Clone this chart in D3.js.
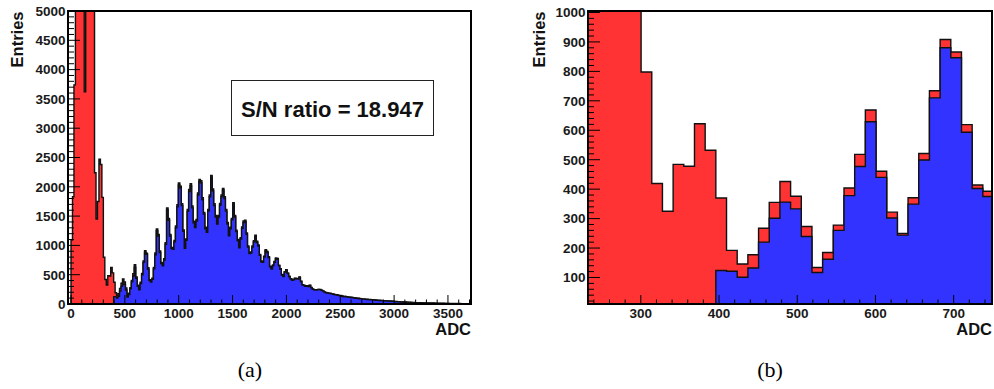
<!DOCTYPE html>
<html><head><meta charset="utf-8">
<script src="https://cdn.jsdelivr.net/npm/d3@7"></script>
<style>body{margin:0;background:#fff}svg{display:block}</style>
</head><body><svg id="c" width="994" height="389"></svg>
<script>
// ---- data ----
const binWidth = 4096 / 300;            // ADC units per bin
// total entries (red), bins 0..272
const totalCounts = [
1090,1830,3740,5600,7200,8400,8800,8200,7000,3620,
6400,6900,6800,6200,5600,5200,2240,1450,1750,2470,
2380,1820,798,419,325,484,478,622,532,
370,192,146,177,267,355,426,376,273,134,185,278,404,518,669,461,322,250,371,521,734,908,866,619,414,393,
440,625,870,1280,1185,905,710,668,772,1048,1640,1458,1185,965,955,1085,1330,1695,2065,2012,1710,1265,
972,1110,1612,1955,2055,1672,1412,1330,1442,1895,2125,2105,1812,1562,1310,1250,1615,1862,2195,1962,1710,1512,1390,1512,
1715,1862,1972,1830,1612,1390,1188,1310,1462,1730,1512,1260,1102,980,1132,1315,1416,1432,1213,990,878,888,990,1082,1172,1070,
1008,846,735,726,815,928,896,806,645,609,665,725,786,776,664,604,504,478,553,584,528,473,432,412,
422,442,437,432,463,391,331,321,307,311,300,321,281,256,245,240,245,250,248,235,222,206,196,190,185,180,
176,169,161,159,153,146,144,136,127,130,124,120,117,114,110,107,102,100,97,93,
90,87,86,82,80,78,76,74,72,70,67,65,64,62,60,58,56,54,53,52,
51,49,47,44,42,41,39,37,36,34,33,32,30,29,28,26,25,24,23,22,
22,21,20,19,19,18,17,17,16,16,15,14,14,13,13,12,12,11,11,11,
10,10,9,9,9,8,8,8,7,7,7,7,6,6,6,6
];
// signal entries (blue), starting at bin 29
const signalFirstBin = 29;
const signalCounts = [
124,121,101,132,220,301,356,333,239,117,162,260,378,477,629,440,302,244,349,499,710,880,846,593,402,375,
420,600,840,1250,1160,880,690,650,750,1020,1610,1430,1160,945,935,1060,1300,1660,2030,1980,1680,1240,
950,1085,1580,1920,2020,1640,1385,1305,1415,1860,2090,2070,1780,1535,1285,1225,1585,1830,2160,1930,1680,1485,1365,1485,
1685,1830,1940,1800,1585,1365,1165,1285,1435,1700,1485,1235,1080,960,1110,1290,1390,1405,1190,970,860,870,970,1060,1150,1050,
990,830,720,712,800,910,880,792,633,598,653,712,772,762,653,594,495,470,544,574,519,465,425,405,
415,435,430,425,455,385,326,316,302,306,296,316,277,252,242,237,242,247,245,232,219,203,193,188,183,178,
173,166,158,156,150,143,141,133,124,127,121,117,114,111,107,104,99,97,94,90,
87,84,83,79,77,75,73,71,69,67,64,62,61,59,57,55,53,51,50,49,
48,46,44,41,39,38,36,34,33,31,30,29,27,26,25,23,22,21,20,19,
19,18,17,16,16,15,14,14,13,13,12,11,11,10,10,9,9,8,8,8,
7,7,6,6,6,5,5,5,4,4,4,4,3,3,3,3
];
const leftXTicks = [0,500,1000,1500,2000,2500,3000,3500];
const leftYTicks = [0,500,1000,1500,2000,2500,3000,3500,4000,4500,5000];
const rightXTicks = [300,400,500,600,700];
const rightYTicks = [100,200,300,400,500,600,700,800,900,1000];
const xTitle = "ADC";
const yTitle = "Entries";
const snLabel = "S/N ratio = 18.947";
const captions = ["(a)", "(b)"];

// ---- drawing ----
const svg = d3.select("#c");
const RED = "#ff3333", BLUE = "#3333ff";
const sans = "'Liberation Sans', Arial, Helvetica, sans-serif";
const serif = "'Liberation Serif', 'Times New Roman', serif";

const totalBins = totalCounts.map((c, i) => ({x0: i * binWidth, x1: (i + 1) * binWidth, c}));
const signalBins = signalCounts.map((c, i) => ({x0: (i + signalFirstBin) * binWidth, x1: (i + signalFirstBin + 1) * binWidth, c}));

function stepPoints(bins) {
  const pts = [[bins[0].x0, 0]];
  bins.forEach(b => { pts.push([b.x0, b.c]); pts.push([b.x1, b.c]); });
  pts.push([bins[bins.length - 1].x1, 0]);
  return pts;
}

const panels = [
  {box: {x0: 68, x1: 471, y0: 11, y1: 304}, xDom: [-28, 3714], yDom: [0, 5000],
   xTicks: leftXTicks, xMinor: 100, yTicks: leftYTicks, yMinor: 100, caption: captions[0], capX: 250,
   yTitleX: 23, sn: true},
  {box: {x0: 588, x1: 992, y0: 11, y1: 304}, xDom: [232.5, 749], yDom: [10, 1005],
   xTicks: rightXTicks, xMinor: 20, yTicks: rightYTicks, yMinor: 20, caption: captions[1], capX: 770,
   yTitleX: 545, sn: false}
];

panels.forEach((p, pi) => {
  const b = p.box;
  const x = d3.scaleLinear().domain(p.xDom).range([b.x0, b.x1]);
  const y = d3.scaleLinear().domain(p.yDom).range([b.y1, b.y0]);
  const g = svg.append("g");
  const clipId = "clip" + pi;
  g.append("clipPath").attr("id", clipId).append("rect")
    .attr("x", b.x0).attr("y", b.y0).attr("width", b.x1 - b.x0).attr("height", b.y1 - b.y0);
  const hg = g.append("g").attr("clip-path", `url(#${clipId})`);
  const line = d3.line().x(d => x(d[0])).y(d => y(d[1]));
  [[totalBins, RED], [signalBins, BLUE]].forEach(([bins, col]) => {
    const pts = stepPoints(bins);
    hg.append("path").attr("d", line(pts) + "Z").attr("fill", col).attr("stroke", "none");
    hg.append("path").attr("d", line(pts)).attr("fill", "none")
      .attr("stroke", "#111").attr("stroke-width", 1.4).attr("stroke-linejoin", "miter");
  });

  // ticks
  const tg = g.append("g").attr("stroke", "#000").attr("stroke-width", 1);
  const xMin = Math.ceil(p.xDom[0] / p.xMinor) * p.xMinor;
  d3.range(xMin, p.xDom[1], p.xMinor).forEach(v => {
    const major = p.xTicks.includes(v);
    tg.append("line").attr("x1", x(v)).attr("x2", x(v)).attr("y1", b.y1).attr("y2", b.y1 - (major ? 9 : 4.5));
  });
  const yMin = Math.ceil(p.yDom[0] / p.yMinor) * p.yMinor;
  d3.range(yMin, p.yDom[1] + 0.001, p.yMinor).forEach(v => {
    const major = p.yTicks.includes(v);
    tg.append("line").attr("y1", y(v)).attr("y2", y(v)).attr("x1", b.x0).attr("x2", b.x0 + (major ? 12 : 6));
  });
  // tick labels
  p.xTicks.forEach(v => {
    g.append("text").attr("x", x(v)).attr("y", 318).attr("text-anchor", "middle")
      .attr("font-family", sans).attr("font-weight", "bold").attr("font-size", 13.5).attr("fill", "#1a1a1a").text(v);
  });
  p.yTicks.forEach(v => {
    g.append("text").attr("x", b.x0 - 2.5).attr("y", y(v)).attr("dy", "0.36em").attr("text-anchor", "end")
      .attr("font-family", sans).attr("font-weight", "bold").attr("font-size", 13.5).attr("fill", "#1a1a1a").text(v);
  });
  // frame
  g.append("rect").attr("x", b.x0).attr("y", b.y0).attr("width", b.x1 - b.x0).attr("height", b.y1 - b.y0)
    .attr("fill", "none").attr("stroke", "#000").attr("stroke-width", 2);
  // titles
  g.append("text").attr("x", b.x1).attr("y", 335).attr("text-anchor", "end")
    .attr("font-family", sans).attr("font-weight", "bold").attr("font-size", 16.5).attr("fill", "#111").text(xTitle);
  g.append("text").attr("transform", `translate(${p.yTitleX},${b.y0 + 0.5}) rotate(-90)`).attr("text-anchor", "end")
    .attr("font-family", sans).attr("font-weight", "bold").attr("font-size", 16.5).attr("fill", "#111").text(yTitle);
  // caption
  g.append("text").attr("x", p.capX).attr("y", 377).attr("text-anchor", "middle")
    .attr("font-family", serif).attr("font-size", 22).attr("fill", "#000").text(p.caption);
  if (p.sn) {
    g.append("rect").attr("x", 231.5).attr("y", 80.5).attr("width", 202).attr("height", 55)
      .attr("fill", "#fff").attr("stroke", "#222").attr("stroke-width", 1);
    g.append("text").attr("x", 332.5).attr("y", 116.5).attr("text-anchor", "middle")
      .attr("font-family", sans).attr("font-weight", "bold").attr("font-size", 22).attr("fill", "#111").text(snLabel);
  }
});
</script>
</body></html>
